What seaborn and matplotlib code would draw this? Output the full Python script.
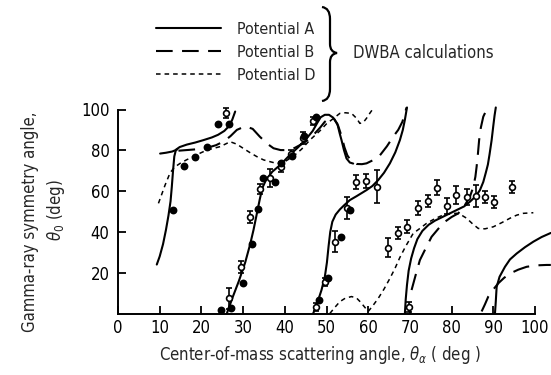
import numpy as np
import pandas as pd
import matplotlib
matplotlib.use("Agg")
import matplotlib.pyplot as plt
from matplotlib.path import Path
from matplotlib.patches import PathPatch
import seaborn as sns

# ---------------- data ----------------
# Potential A (solid)
a1_x = [9.3, 10.0, 10.8, 11.5, 12.1, 12.6, 12.9, 13.2, 13.5, 13.9, 14.8, 16.5, 18.5, 20.5, 22.5, 24.0, 25.5, 26.6, 27.4, 28.1]
a1_y = [24, 28, 34, 41, 48, 55, 62, 70, 77, 80.3, 81.6, 82.8, 83.8, 85.0, 86.3, 87.6, 89.5, 91.8, 95, 99]
a2_x = [10.1, 11.5, 13.0, 14.2]
a2_y = [78.4, 78.8, 79.4, 80.4]
a3_x = [26.1, 27.5, 29.0, 30.5, 31.7, 32.5, 33.3, 34.0, 34.6, 35.5, 37.0, 39.0, 41.2, 43.2, 45.3, 46.7, 47.8, 48.6,
        49.6, 50.6, 51.6, 52.6, 53.2, 53.6, 54.2, 54.8, 55.6, 56.4]
a3_y = [0, 8, 16, 25, 34, 41, 49, 56, 61.5, 65.5, 69.5, 73, 77.7, 81.5, 86, 89.5, 93.5, 96.2,
        97.4, 97.4, 96, 93, 88, 85, 80, 76, 74, 73.5]
a4_x = [46.8, 47.6, 48.8, 49.6, 50.1, 50.5, 50.9, 51.4, 52.2, 53.2, 54.2, 55.6, 57.2, 59.6, 61.0, 62.4, 63.8,
        65.2, 66.5, 67.6, 68.3, 68.8, 69.3]
a4_y = [0, 4, 11.5, 18, 25, 33, 40, 45, 48.5, 51, 53, 55.6, 57.5, 60.5, 62.5, 65.4, 69,
        73.6, 79, 85, 90, 95, 101]
a5_x = [68.8, 69.0, 69.3, 69.7, 70.3, 71.0, 71.8, 73.0, 74.5, 76.0, 77.5, 79.5, 81.2, 83.0, 84.4, 85.8, 86.8,
        87.6, 88.2, 88.7, 89.1, 89.6, 90.0, 90.3, 90.6]
a5_y = [0, 7, 14, 21, 27, 32, 36.5, 40.5, 43.5, 45.5, 47, 49, 50.7, 52.5, 54.8, 57.5, 60.5,
        64.5, 69, 73, 78, 85, 92, 97, 101]
a6_x = [90.4, 90.6, 90.8, 91.5, 92.8, 94.0, 95.6, 97.6, 99.6, 101.6, 103.8]
a6_y = [0, 6, 13, 18, 22.9, 26.5, 29.4, 32.5, 35.2, 37.5, 39.5]

# Potential B (long dashes)
b1_x = [14.5, 17.0, 19.5, 21.5, 23.5, 25.5, 27.0, 28.5, 30.5, 32.3, 34.0, 35.8, 37.3, 39.0, 40.4, 42.4, 44.4,
        46.0, 47.2, 48.5, 49.6, 50.8, 51.8, 52.8, 53.6, 54.3, 55.0, 56.0, 57.2, 58.5, 59.6, 61.2, 62.8, 64.5,
        66.0, 67.2, 68.2, 69.2]
b1_y = [79.8, 80.2, 80.6, 81.3, 82.5, 84.5, 87, 90, 91.8, 90.5, 86.7, 83.2, 81.0, 80.1, 80.1, 81.2, 83.4,
        85.8, 88.3, 91.2, 94.0, 95.8, 95.5, 92.0, 87.0, 81.5, 77.5, 74.5, 73.3, 73.2, 73.6, 75.2, 77.5, 82.0,
        86.7, 90.0, 94.0, 101]
b2_x = [70.4, 71.4, 72.4, 73.8, 75.2, 76.8, 78.4, 80.0, 81.6, 83.0, 84.4, 85.2, 85.7, 86.0, 86.3, 86.6, 87.0,
        87.6, 88.3, 89.0]
b2_y = [11.5, 19, 26.2, 32, 37.6, 41.5, 45, 47.3, 49.1, 52.5, 57.3, 62, 67, 72, 78, 85, 91,
        96.5, 99.5, 101.7]
b3_x = [87.2, 88.0, 88.8, 90.0, 91.2, 92.6, 94.0, 96.0, 98.0, 100.4, 102.8, 103.8]
b3_y = [1, 4.5, 8.3, 11.8, 14.8, 17.5, 19.6, 21.5, 22.9, 23.6, 23.8, 23.8]

# Potential D (short dashes)
d1_x = [9.7, 10.5, 11.3, 12.5, 13.6, 14.9, 16.5, 18.1, 19.7, 21.3, 23.0, 24.5, 26.9, 28.5, 30.0, 31.7, 33.3,
        34.9, 36.5, 38.0, 39.5, 42.0, 44.0, 46.0, 48.4, 50.0, 51.6, 53.2, 54.5, 56.0, 57.2, 58.0, 58.8, 59.6,
        60.4, 61.2]
d1_y = [54, 58.5, 63, 69, 71.8, 73.6, 75.4, 76.9, 78.6, 80.1, 81.0, 81.8, 84.2, 83, 81, 78.8, 76.9,
        75.3, 74.4, 73.6, 73.8, 77, 80.5, 85, 89.5, 93, 95.5, 98.1, 98.4, 98.1, 95.7, 93.2, 93.6, 95.7,
        98.2, 100.5]
d2_x = [50.8, 52.0, 53.2, 54.5, 56.0, 57.2, 58.2, 59.2, 60.0, 61.0, 62.4, 63.8, 65.2, 66.4, 67.6, 69.0, 70.8,
        72.4, 74.0, 76.0, 78.0, 79.6, 81.2, 82.4, 83.6, 85.0, 86.4, 88.0, 90.0, 92.0, 94.0, 95.6, 97.2, 99.6]
d2_y = [0, 3, 5.8, 7.5, 8.3, 7.6, 5.5, 3, 1, 3.5, 7.4, 12, 17.2, 22, 27.5, 33, 39.3,
        41.7, 44.2, 46.5, 48.3, 49, 49.1, 48.2, 46.7, 44, 41.7, 41.5, 42.5, 44.5, 46.7, 48.2, 49.1, 49.4]

# Measured points: filled circles
full_x = [13.3, 15.9, 18.5, 21.3, 24.1, 26.6, 24.6, 27.1, 29.9, 32.1, 33.6, 34.8, 37.6, 39.1, 41.8, 44.7, 47.6,
          48.3, 50.4, 53.4, 55.6]
full_y = [50.7, 72.3, 76.9, 81.8, 92.7, 92.7, 1.7, 2.5, 14.8, 34.1, 51.1, 66.3, 64.6, 73.6, 77.0, 87.2, 96.5,
          6.6, 17.2, 37.6, 50.7]
# Measured points: open circles with error bars
open_x = [25.9, 26.5, 29.4, 31.7, 34.1, 36.4, 39.0, 41.4, 44.3, 46.8, 47.4, 49.6, 52.0, 54.8, 57.0, 59.5, 62.0,
          64.7, 67.1, 69.4, 71.9, 74.4, 76.6, 79.0, 81.0, 83.6, 85.9, 88.1, 90.2, 94.6, 69.8]
open_y = [98.1, 7.4, 22.9, 47.2, 60.9, 66.3, 71.7, 78.0, 85.9, 94.4, 3.0, 15.6, 35.2, 51.6, 64.6, 65.1, 62.2,
          32.3, 39.6, 42.6, 51.6, 55.1, 61.7, 52.7, 58.1, 57.0, 57.6, 57.0, 54.8, 61.9, 3.0]
open_err = [2.5, 5, 3, 3, 2.5, 4.5, 2.5, 2, 3, 2, 2, 2, 5, 5.5, 3.5, 3.5, 8,
            4.5, 3, 3, 3.5, 3, 3.5, 4, 4.5, 4, 5.5, 3, 3, 3, 2.5]

x_ticks = [0, 10, 20, 30, 40, 50, 60, 70, 80, 90, 100]
y_ticks = [20, 40, 60, 80, 100]
legend_labels = ["Potential A", "Potential B", "Potential D"]

# ---------------- style ----------------
sns.set_theme(style="ticks")
plt.rcParams["font.family"] = ["DejaVu Sans"]
plt.rcParams["font.stretch"] = "condensed"

W, H = 551, 375
fig = plt.figure(figsize=(W / 100, H / 100), dpi=100)
x0px, ppx = 118.0, 4.17
y0px, ppy = 313.5, 2.04
xmax = (W - x0px) / ppx
ymax = 103.0
ax = fig.add_axes([x0px / W, 1 - y0px / H, (W - x0px) / W, ymax * ppy / H])

lw = 1.5
styleA = dict(color="black", lw=lw, linestyle="-")
styleB = dict(color="black", lw=lw, linestyle=(0, (8, 4.5)))
styleD = dict(color="black", lw=1.1, linestyle=(0, (3, 2.6)))

def curve(xs, ys, st, label=None):
    sns.lineplot(x=xs, y=ys, sort=False, estimator=None, ax=ax, label=label, legend=False, **st)

curve(a1_x, a1_y, styleA)
curve(a2_x, a2_y, styleA)
curve(a3_x, a3_y, styleA)
curve(a4_x, a4_y, styleA)
curve(a5_x, a5_y, styleA)
curve(a6_x, a6_y, styleA)
curve(b1_x, b1_y, styleB)
curve(b2_x, b2_y, styleB)
curve(b3_x, b3_y, styleB)
curve(d1_x, d1_y, styleD)
curve(d2_x, d2_y, styleD)

ax.errorbar(open_x, open_y, yerr=open_err, fmt="o", ms=4.2, mfc="white", mec="black", mew=1.2,
            ecolor="black", elinewidth=1.2, capsize=2.5, capthick=1.2, zorder=4)
sns.scatterplot(x=full_x, y=full_y, color="black", s=32, edgecolor="black", linewidth=0, ax=ax, zorder=5)

ax.set_xlim(0, xmax)
ax.set_ylim(0, ymax)
sns.despine(ax=ax)
ax.spines["bottom"].set_bounds(0, 100)
ax.spines["left"].set_bounds(0, 100)
for s in ("bottom", "left"):
    ax.spines[s].set_linewidth(1.4)
    ax.spines[s].set_color("black")
ax.set_xticks(x_ticks)
ax.set_yticks(y_ticks)
ax.tick_params(axis="both", direction="in", length=5.5, width=1.3, colors="black", labelsize=12)
ax.tick_params(axis="x", pad=4)
ax.tick_params(axis="y", pad=6)
ax.set_xlabel("")
ax.set_ylabel("")

# axis titles
fig.text(320 / W, 1 - 355 / H, r"Center-of-mass scattering angle, $\theta_\alpha$ ( deg )",
         ha="center", va="center", fontsize=12)
fig.text(30 / W, 1 - 222 / H, "Gamma-ray symmetry angle,", rotation=90, ha="center", va="center", fontsize=12)
fig.text(56 / W, 1 - 210 / H, r"$\theta_0$ (deg)", rotation=90, ha="center", va="center", fontsize=12)

# legend
handles = [plt.Line2D([], [], **styleA), plt.Line2D([], [], **styleB), plt.Line2D([], [], **styleD)]
fig.legend(handles, legend_labels, loc="upper left", bbox_to_anchor=(156 / W, 1 - 22 / H),
           frameon=False, fontsize=11.5, handlelength=4.1, handletextpad=1.0, labelspacing=0.5,
           borderpad=0, borderaxespad=0)

# brace
def fx(p):
    return p / W
def fy(p):
    return 1 - p / H
bx = 330
verts = [(fx(bx - 8), fy(7)), (fx(bx), fy(8)), (fx(bx), fy(19)),
         (fx(bx), fy(44)),
         (fx(bx), fy(52)), (fx(bx + 7), fy(53)),
         (fx(bx), fy(54)), (fx(bx), fy(62)),
         (fx(bx), fy(89)),
         (fx(bx), fy(100)), (fx(bx - 8), fy(101))]
codes = [Path.MOVETO, Path.CURVE3, Path.CURVE3, Path.LINETO, Path.CURVE3, Path.CURVE3,
         Path.CURVE3, Path.CURVE3, Path.LINETO, Path.CURVE3, Path.CURVE3]
fig.add_artist(PathPatch(Path(verts, codes), transform=fig.transFigure, fill=False, lw=1.6, color="black"))
fig.text(353 / W, 1 - 53 / H, "DWBA calculations", ha="left", va="center", fontsize=12)

fig.savefig("out.png", dpi=100)
